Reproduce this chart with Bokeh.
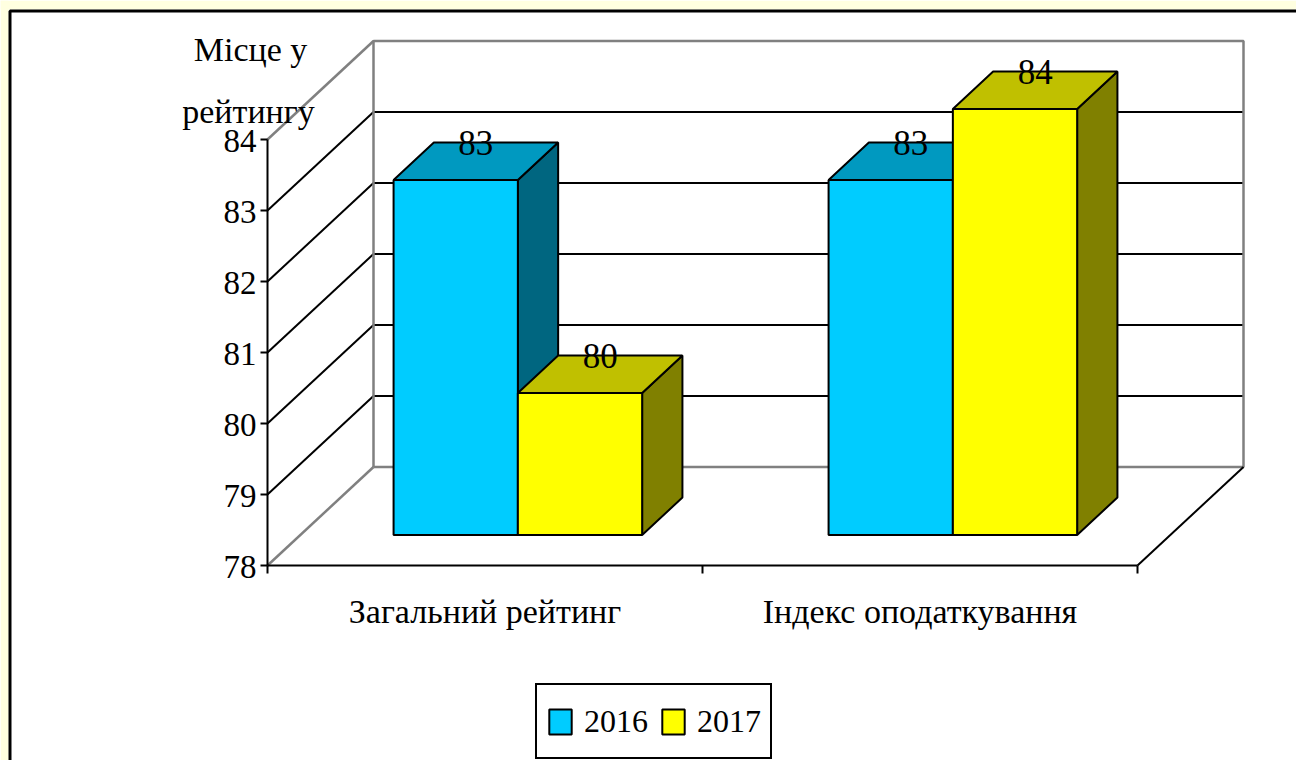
from bokeh.plotting import figure
from bokeh.models import Range1d, Legend, LegendItem, Label, BoxAnnotation
from bokeh.core.properties import value
from bokeh.embed import file_html
from bokeh.resources import INLINE

# ---------------- data ----------------
categories = ["Загальний рейтинг", "Індекс оподаткування"]
years = ["2016", "2017"]
rank_2016 = [83, 83]
rank_2017 = [80, 84]
value_ticks = [78, 79, 80, 81, 82, 83, 84]
axis_title = ["Місце у", "рейтингу"]

series = [rank_2016, rank_2017]
front_colors = ["#00CCFF", "#FFFF00"]
top_colors = ["#0099C0", "#C0C000"]
side_colors = ["#006680", "#808000"]

# ---------------- geometry (pixels of the page) ----------------
FONT = "Liberation Serif"
ORG = 1                 # page position of the canvas origin
W, H = 1296, 760
AX_X, AX_Y = 268, 566   # page position of the front axes corner
PX_X = 435.0            # pixels per category
PX_Y = 71.0             # pixels per rank unit
DX = 106.0 / PX_X       # full depth offset (x, data units)
DY = 98.5 / PX_Y        # full depth offset (y, data units)
VMIN, VMAX = value_ticks[0], value_ticks[-1]
NCAT = len(categories)
GAP = 1.5
BW = 1.0 / (len(years) + GAP)
OFF = GAP / 2 * BW
F1, F2 = 0.31, 0.69     # bar depth (front / back)


def px(page_x):
    return (page_x - AX_X) / PX_X


def py(page_y):
    return VMIN + (AX_Y - page_y) / PX_Y


def proj(x, v, d):
    return x + d * DX, v + d * DY


p = figure(width=W, height=H, output_backend="svg", toolbar_location=None, title=None,
           x_range=Range1d(px(ORG), px(ORG + W)), y_range=Range1d(py(ORG + H), py(ORG)),
           x_axis_location=None, y_axis_location=None,
           min_border_left=0, min_border_bottom=0, min_border_top=0, min_border_right=0)
p.xgrid.visible = False
p.ygrid.visible = False
p.outline_line_color = None
p.background_fill_color = "white"
p.border_fill_color = "white"

# ---------------- page background strip and outer frame ----------------
p.add_layout(BoxAnnotation(left=0, right=9 - ORG, top=0, bottom=H,
                           left_units="canvas", right_units="canvas",
                           top_units="canvas", bottom_units="canvas",
                           fill_color="#FFFFE0", fill_alpha=1, line_alpha=0))
p.add_layout(BoxAnnotation(left=0, right=W, top=0, bottom=10 - ORG,
                           left_units="canvas", right_units="canvas",
                           top_units="canvas", bottom_units="canvas",
                           fill_color="#FFFFE0", fill_alpha=1, line_alpha=0))
p.add_layout(BoxAnnotation(left=9 - ORG + 1.5, right=W + 20, top=10 - ORG + 1.5, bottom=H + 20,
                           left_units="canvas", right_units="canvas",
                           top_units="canvas", bottom_units="canvas",
                           fill_alpha=0, line_color="black", line_alpha=1, line_width=3))

# ---------------- walls ----------------
GREY = "#808080"
inner = value_ticks[1:-1]
bx0 = [proj(0, v, 1)[0] for v in inner]
by0 = [proj(0, v, 1)[1] for v in inner]
bx1 = [proj(NCAT, v, 1)[0] for v in inner]
# back wall grid lines
p.segment(x0=bx0, y0=by0, x1=bx1, y1=by0, line_color="black", line_width=2)
# side wall grid lines
p.segment(x0=[0] * len(inner), y0=inner, x1=bx0, y1=by0, line_color="black", line_width=2)
# back wall border
c00 = proj(0, VMIN, 1); c10 = proj(NCAT, VMIN, 1)
c11 = proj(NCAT, VMAX, 1); c01 = proj(0, VMAX, 1)
p.line(x=[c00[0], c10[0], c11[0], c01[0], c00[0]], y=[c00[1], c10[1], c11[1], c01[1], c00[1]],
       line_color=GREY, line_width=2.5)
# side wall top / bottom edges
p.segment(x0=[0, 0], y0=[VMIN, VMAX], x1=[c00[0], c01[0]], y1=[c00[1], c01[1]],
          line_color=GREY, line_width=2.5)
# floor right edge
p.segment(x0=[NCAT], y0=[VMIN], x1=[c10[0]], y1=[c10[1]], line_color="black", line_width=2)

# ---------------- value axis (front left edge) ----------------
TICK = 7 / PX_X
p.segment(x0=[0], y0=[VMIN], x1=[0], y1=[VMAX], line_color="black", line_width=2)
p.segment(x0=[-TICK] * len(value_ticks), y0=value_ticks, x1=[0] * len(value_ticks),
          y1=value_ticks, line_color="black", line_width=2)
p.text(x=[-TICK] * len(value_ticks), y=value_ticks, text=[str(v) for v in value_ticks],
       x_offset=-4, y_offset=1, text_align="right", text_baseline="middle",
       text_font=value(FONT), text_font_size="33px", text_color="black")

# ---------------- category axis (front bottom edge) ----------------
cat_bounds = list(range(NCAT + 1))
p.segment(x0=[0], y0=[VMIN], x1=[NCAT], y1=[VMIN], line_color="black", line_width=2)
p.segment(x0=cat_bounds, y0=[VMIN] * len(cat_bounds), x1=cat_bounds,
          y1=[VMIN - 8 / PX_Y] * len(cat_bounds), line_color="black", line_width=2)
p.text(x=[i + 0.5 for i in range(NCAT)], y=[VMIN] * NCAT, text=categories,
       y_offset=46, text_align="center", text_baseline="middle",
       text_font=value(FONT), text_font_size="34px", text_color="black")

# ---------------- bars ----------------
ddx = (F2 - F1) * DX
ddy = (F2 - F1) * DY
fronts = []
for s, vals in enumerate(series):
    L, R, B, T = [], [], [], []
    txs, tys, sxs, sys_ = [], [], [], []
    lx, ly = [], []
    for c, v in enumerate(vals):
        xl = c + OFF + s * BW + F1 * DX
        xr = xl + BW
        vb = VMIN + F1 * DY
        vt = v + F1 * DY
        L.append(xl); R.append(xr); B.append(vb); T.append(vt)
        txs.append([xl, xr, xr + ddx, xl + ddx])
        tys.append([vt, vt, vt + ddy, vt + ddy])
        sxs.append([xr, xr + ddx, xr + ddx, xr])
        sys_.append([vb, vb + ddy, vt + ddy, vt])
        lx.append((xl + xr) / 2 + ddx / 2)
        ly.append(vt + ddy / 2)
    p.patches(xs=sxs, ys=sys_, fill_color=side_colors[s], line_color="black", line_width=2)
    p.patches(xs=txs, ys=tys, fill_color=top_colors[s], line_color="black", line_width=2)
    fr = p.quad(left=L, right=R, bottom=B, top=T, fill_color=front_colors[s],
                line_color="black", line_width=2)
    fronts.append(fr)
    p.text(x=lx, y=ly, text=[str(v) for v in vals], text_align="center",
           text_baseline="middle", y_offset=-18, text_font=value(FONT),
           text_font_size="35px", text_color="black")

# ---------------- axis title ----------------
p.add_layout(Label(x=px(251), y=py(50), text=axis_title[0], text_align="center",
                   text_baseline="middle", text_font=FONT, text_font_size="34px",
                   text_color="black"))
p.add_layout(Label(x=px(249), y=py(112), text=axis_title[1], text_align="center",
                   text_baseline="middle", text_font=FONT, text_font_size="34px",
                   text_color="black"))

# ---------------- legend ----------------
LEG_H = 72
legend = Legend(items=[LegendItem(label=years[s], renderers=[fronts[s]]) for s in range(len(years))],
                orientation="horizontal", location=(536 - ORG, (ORG + H) - 688 - LEG_H),
                glyph_width=28, glyph_height=31, label_standoff=10, spacing=11, padding=9,
                label_height=54, label_text_font=FONT, label_text_font_size="32px",
                label_text_color="black",
                border_line_color="black", border_line_alpha=1.0, border_line_width=2,
                background_fill_color="white", background_fill_alpha=1.0, margin=0)
p.add_layout(legend)

open("out.html", "w").write(file_html(p, INLINE))
